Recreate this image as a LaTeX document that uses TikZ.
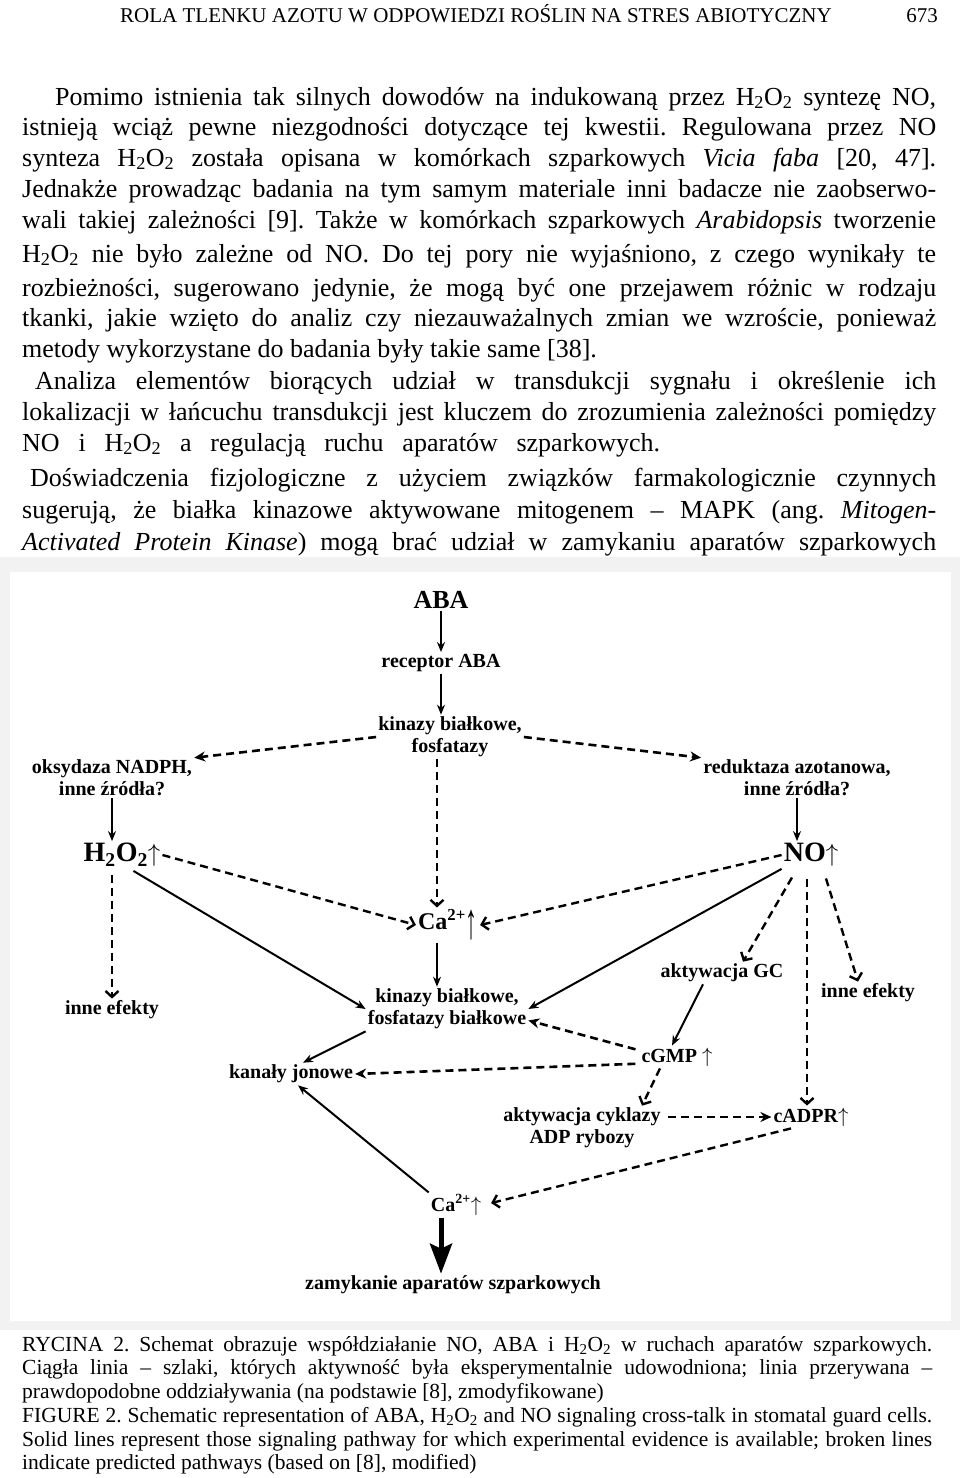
\documentclass[tikz,border=0pt]{standalone}
\usepackage{fontspec}
\setmainfont{Liberation Serif}
\usetikzlibrary{arrows.meta}

\newcommand\hoo{H\textsubscript{2}O\textsubscript{2}}
\newcommand\bodyfont{\fontsize{26}{31}\selectfont}
\newcommand\capfont{\fontsize{21.5}{23.6}\selectfont}
\frenchspacing

\begin{document}
\begin{tikzpicture}[
    x=1pt, y=-1pt,
    lbl/.style={font=\fontsize{20}{22}\selectfont\bfseries, align=center, inner sep=2pt},
    big/.style={font=\fontsize{28}{30}\selectfont\bfseries, inner sep=2pt},
    txtline/.style={anchor=base west, inner sep=0pt, font=\bodyfont},
    capline/.style={anchor=base west, inner sep=0pt, font=\capfont},
    solidar/.style={-{Stealth[length=10pt,width=8pt]}, line width=2pt},
    dashf/.style={-{Stealth[length=11pt,width=10pt]}, line width=2.6pt, dash pattern=on 8pt off 5pt},
    dashb/.style={-{Straight Barb[length=6pt,width=13pt]}, line width=2.4pt, dash pattern=on 8pt off 5pt},
    thickar/.style={-{Stealth[length=30pt,width=22pt,inset=5pt]}, line width=5pt}
]
\useasboundingbox (0,0) rectangle (960,1478);

% Running head
\node[anchor=base, inner sep=0pt, font=\fontsize{21}{24}\selectfont] (head) at (476,22) {ROLA TLENKU AZOTU W ODPOWIEDZI ROŚLIN NA STRES ABIOTYCZNY};
\node[anchor=base east, inner sep=0pt, font=\fontsize{21}{24}\selectfont] (pnum) at (938,22) {673};

% Body text
\node[txtline] (l1) at (55,105) {\makebox[881pt][s]{Pomimo istnienia tak silnych dowodów na indukowaną przez \hoo{} syntezę NO,}};
\node[txtline] (l2) at (22,135) {\makebox[914pt][s]{istnieją wciąż pewne niezgodności dotyczące tej kwestii. Regulowana przez NO}};
\node[txtline] (l3) at (22,166) {\makebox[914pt][s]{synteza \hoo{} została opisana w komórkach szparkowych \textit{Vicia faba} [20, 47].}};
\node[txtline] (l4) at (22,197) {\makebox[914pt][s]{Jednakże prowadząc badania na tym samym materiale inni badacze nie zaobserwo-}};
\node[txtline] (l5) at (22,228) {\makebox[914pt][s]{wali takiej zależności [9]. Także w komórkach szparkowych \textit{Arabidopsis} tworzenie}};
\node[txtline] (l6) at (22,262) {\makebox[914pt][s]{\hoo{} nie było zależne od NO. Do tej pory nie wyjaśniono, z czego wynikały te}};
\node[txtline] (l7) at (22,296) {\makebox[914pt][s]{rozbieżności, sugerowano jedynie, że mogą być one przejawem różnic w rodzaju}};
\node[txtline] (l8) at (22,326) {\makebox[914pt][s]{tkanki, jakie wzięto do analiz czy niezauważalnych zmian we wzroście, ponieważ}};
\node[txtline] (l9) at (22,357) {metody wykorzystane do badania były takie same [38].};
\node[txtline] (l10) at (35,389) {\makebox[901pt][s]{Analiza elementów biorących udział w transdukcji sygnału i określenie ich}};
\node[txtline] (l11) at (22,420) {\makebox[914pt][s]{lokalizacji w łańcuchu transdukcji jest kluczem do zrozumienia zależności pomiędzy}};
\node[txtline] (l12) at (22,451) {\makebox[638pt][s]{NO i \hoo{} a regulacją ruchu aparatów szparkowych.}};
\node[txtline] (l13) at (30,486) {\makebox[906pt][s]{Doświadczenia fizjologiczne z użyciem związków farmakologicznie czynnych}};
\node[txtline] (l14) at (22,518) {\makebox[914pt][s]{sugerują, że białka kinazowe aktywowane mitogenem – MAPK (ang. \textit{Mitogen-}}};
\node[txtline] (l15) at (22,550) {\makebox[914pt][s]{\textit{Activated Protein Kinase}) mogą brać udział w zamykaniu aparatów szparkowych}};

% Scanned figure frame
\fill[gray!10] (0,557) rectangle (960,1330);
\fill[white] (10,572) rectangle (951,1321);

% Nodes
\node[lbl, font=\fontsize{26}{28}\selectfont\bfseries] (aba) at (441,600) {ABA};
\node[lbl] (recep) at (441,663) {receptor ABA};
\node[lbl] (kin1) at (450,737) {kinazy białkowe,\\fosfatazy};
\node[lbl] (oks) at (112,778) {oksydaza NADPH,\\inne źródła?};
\node[lbl] (red) at (797,778) {reduktaza azotanowa,\\inne źródła?};
\node[big] (h2o2) at (122,855) {\hoo$\uparrow$};
\node[big] (no) at (811,855) {NO$\uparrow$};
\node[lbl, font=\fontsize{24}{26}\selectfont\bfseries] (ca1) at (448,925) {Ca\textsuperscript{2+}\raisebox{-9pt}{\scalebox{1}[2.1]{↑}}};
\node[lbl] (ie1) at (112,1010) {inne efekty};
\node[lbl] (gc) at (722,973) {aktywacja GC};
\node[lbl] (ie2) at (868,993) {inne efekty};
\node[lbl] (kin2) at (447,1009) {kinazy białkowe,\\fosfatazy białkowe};
\node[lbl] (kan) at (291,1074) {kanały jonowe};
\node[lbl] (cgmp) at (677,1057) {cGMP $\uparrow$};
\node[lbl] (cyk) at (582,1128) {aktywacja cyklazy\\ADP rybozy};
\node[lbl] (cadpr) at (811,1117) {cADPR$\uparrow$};
\node[lbl] (ca2) at (456,1205) {Ca\textsuperscript{2+}$\uparrow$};
\node[lbl] (zam) at (453,1285) {zamykanie aparatów szparkowych};

% Connectors
\draw[solidar] (aba) -- (recep);
\draw[solidar] (recep) -- (recep |- kin1.north);
\draw[dashf] (kin1.west) -- (oks.north east);
\draw[dashf] (kin1.east) -- (red.north west);
\draw[solidar] (oks.south) -- (oks.south |- h2o2.north);
\draw[solidar] (red.south) -- (red.south |- no.north);
\draw[dashb] ([xshift=-13pt]kin1.south) -- ([xshift=-11pt]ca1.north);
\draw[dashb] (h2o2.east) -- (ca1.west);
\draw[dashb] (no.west) -- (ca1.east);
\draw[dashb, shorten <=6pt] (h2o2.south -| ie1.north) -- (ie1.north);
\draw[solidar, shorten <=4pt] (h2o2.-60) -- (kin2.west);
\draw[solidar] (no.south west) -- (kin2.east);
\draw[solidar] ([xshift=-11pt]ca1.south) -- ([xshift=-11pt]ca1.south |- kin2.north);
\draw[dashb, shorten <=10pt] ([xshift=-14pt]no.south) -- ([xshift=21pt]gc.north);
\draw[dashb, shorten <=10pt] ([xshift=12pt]no.south) -- ([xshift=-10pt]ie2.north);
\draw[dashb, shorten <=10pt] ([xshift=-4pt]no.south) -- ([xshift=-4pt]cadpr.north);
\draw[solidar] ([xshift=-19pt]gc.south) -- ([xshift=-5pt]cgmp.north);
\draw[dashf, shorten <=4pt] (cgmp.170) -- (kin2.-8);
\draw[dashf, shorten <=4pt] (cgmp.190) -- (kan.east);
\draw[solidar] (kin2.south west) -- ([xshift=12pt]kan.north);
\draw[dashb] ([xshift=-17pt]cgmp.south) -- ([xshift=60pt]cyk.north);
\draw[dashf, shorten <=5pt] (cyk.east |- cadpr) -- (cadpr.west);
\draw[dashb, shorten >=8pt] ([xshift=-20pt]cadpr.south) -- (ca2.east);
\draw[solidar] (ca2.north west) -- ([xshift=7pt]kan.south);
\draw[thickar] ([xshift=-15pt]ca2.south) -- ([xshift=-15pt]ca2.south |- zam.north);

% Caption
\node[capline] (c1) at (22,1351) {\makebox[910pt][s]{RYCINA 2. Schemat obrazuje współdziałanie NO, ABA i \hoo{} w ruchach aparatów szparkowych.}};
\node[capline] (c2) at (22,1374) {\makebox[910pt][s]{Ciągła linia – szlaki, których aktywność była eksperymentalnie udowodniona; linia przerywana –}};
\node[capline] (c3) at (22,1398) {prawdopodobne oddziaływania (na podstawie [8], zmodyfikowane)};
\node[capline] (c4) at (22,1422) {\makebox[910pt][s]{FIGURE 2. Schematic representation of ABA, \hoo{} and NO signaling cross-talk in stomatal guard cells.}};
\node[capline] (c5) at (22,1446) {\makebox[910pt][s]{Solid lines represent those signaling pathway for which experimental evidence is available; broken lines}};
\node[capline] (c6) at (22,1469) {indicate predicted pathways (based on [8], modified)};
\end{tikzpicture}
\end{document}
